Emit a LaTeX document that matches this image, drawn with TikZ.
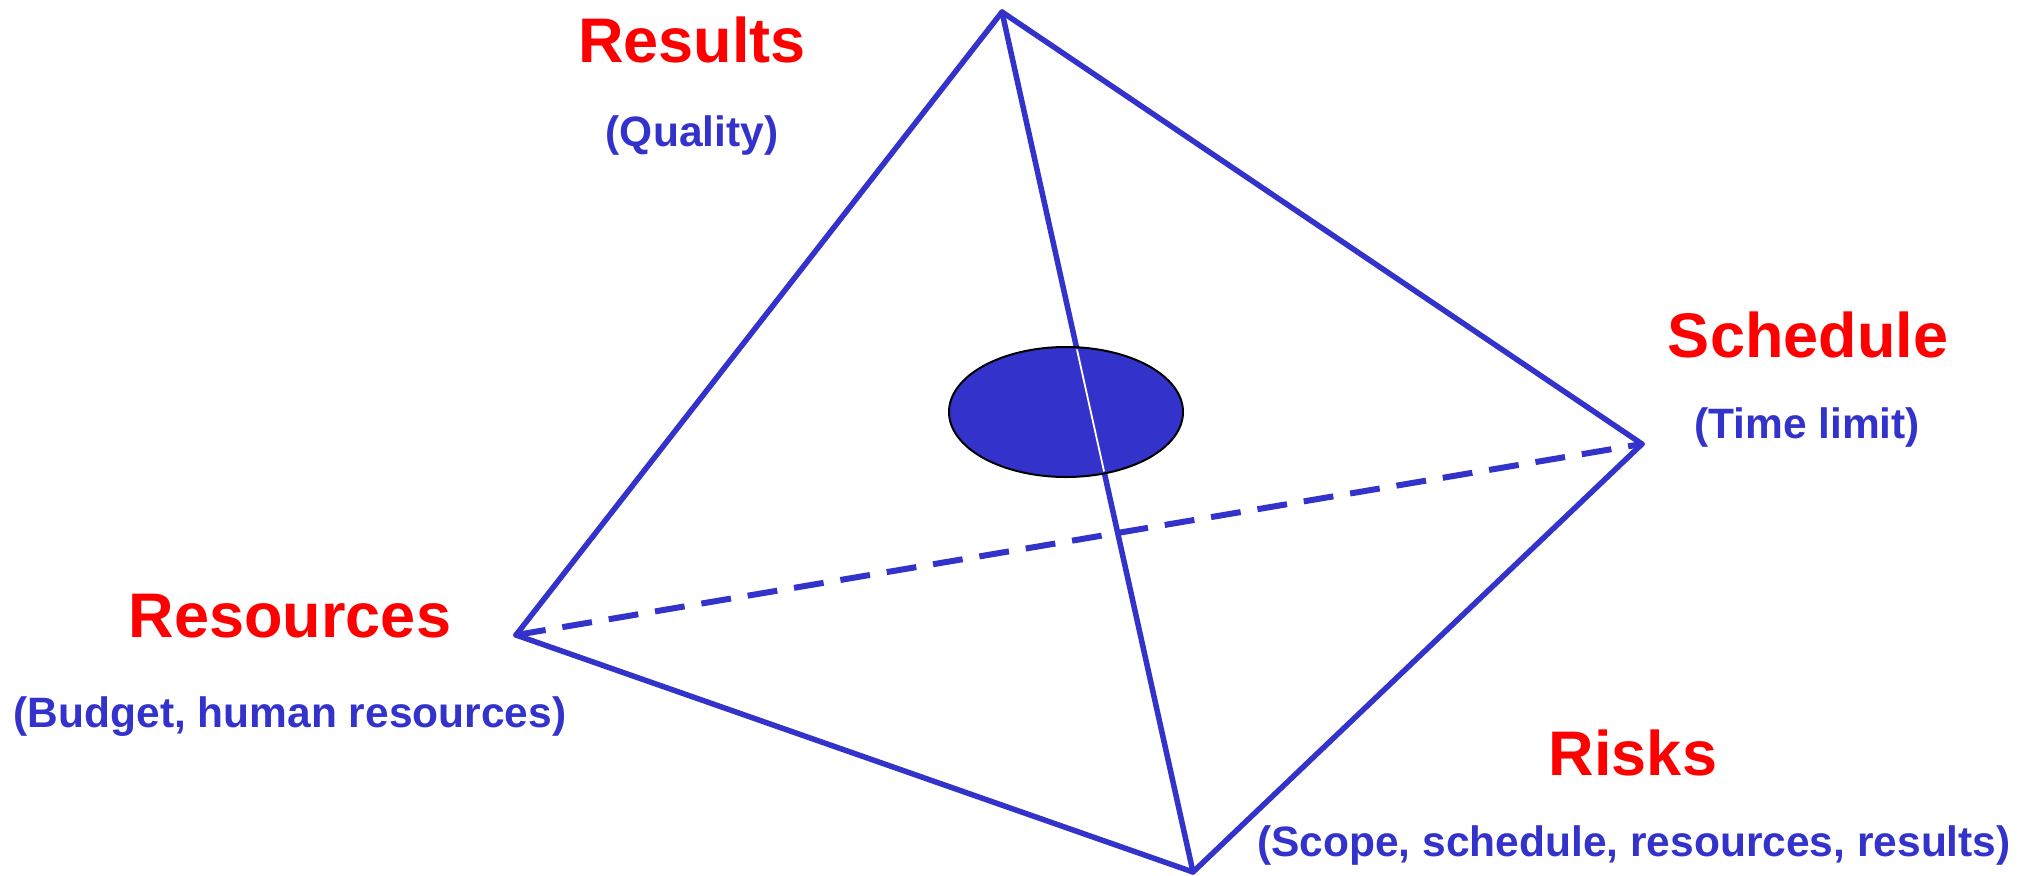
\documentclass[tikz,border=0pt]{standalone}
\usepackage{fontspec}
\setmainfont{Liberation Sans}
\usetikzlibrary{shapes.geometric}
\definecolor{myblue}{RGB}{51,51,204}
\definecolor{myred}{RGB}{255,0,0}
\tikzset{
  edgeline/.style={draw=myblue, line width=5.5pt, line cap=round, line join=round},
  hiddenline/.style={draw=myblue, line width=6pt, dash pattern=on 30pt off 17pt},
  titletext/.style={inner sep=0pt, anchor=base, text=myred, font=\bfseries\fontsize{63}{70}\selectfont},
  subtext/.style={inner sep=0pt, anchor=base, text=myblue, font=\bfseries\fontsize{42.5}{50}\selectfont},
}
\begin{document}
\begin{tikzpicture}[x=1pt, y=-1pt]
\useasboundingbox (0,0) rectangle (2033,875);
% vertices
\coordinate (top) at (1002,12);
\coordinate (left) at (516,635);
\coordinate (right) at (1642,444);
\coordinate (bottom) at (1193,872);
% edges
\draw[hiddenline] (left) -- (right);
\draw[edgeline] (left) -- (top) -- (right);
\draw[edgeline] (left) -- (bottom) -- (right);
\draw[edgeline] (top) -- (bottom);
% ellipse
\node[ellipse, draw=black, line width=2pt, fill=myblue, minimum width=234pt, minimum height=130pt, inner sep=0pt] (core) at (1066,412) {};
\begin{scope}
  \clip (1066,412) ellipse [x radius=115pt, y radius=63pt];
  \draw[white, line width=1.8pt] (top) -- (bottom);
\end{scope}
% labels
\node[titletext] (results) at (692,63) {Results};
\node[subtext] (quality) at (692,146) {(Quality)};
\node[titletext] (resources) at (290,637) {Resources};
\node[subtext] (budget) at (290,727) {(Budget, human resources)};
\node[titletext] (schedule) at (1808,357) {Schedule};
\node[subtext] (time) at (1807,438) {(Time limit)};
\node[titletext] (risks) at (1633,775) {Risks};
\node[subtext] (scope) at (1634,856) {(Scope, schedule, resources, results)};
\end{tikzpicture}
\end{document}
